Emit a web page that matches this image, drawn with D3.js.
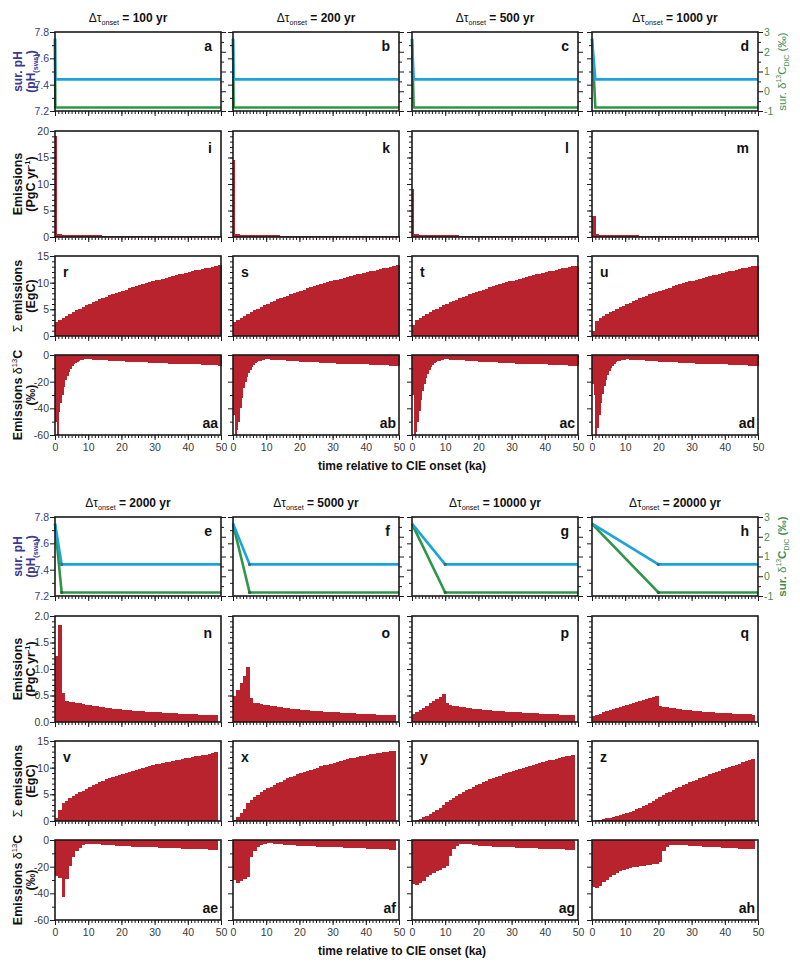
<!DOCTYPE html>
<html><head><meta charset="utf-8">
<script src="https://cdn.jsdelivr.net/npm/d3@7"></script>
<style>
body{margin:0;background:#fff}
svg{display:block}
text{font-family:"Liberation Sans",Arial,Helvetica,sans-serif}
</style>
</head><body>
<svg id="chart" width="800" height="970"></svg>
<script>
// ---------------- DATA ----------------
const onsetYears = [100, 200, 500, 1000, 2000, 5000, 10000, 20000];
const onsetKa = [0.1, 0.2, 0.5, 1, 2, 5, 10, 20];
const letters = [
  ["a","b","c","d"], ["i","k","l","m"], ["r","s","t","u"], ["aa","ab","ac","ad"],
  ["e","f","g","h"], ["n","o","p","q"], ["v","x","y","z"], ["ae","af","ag","ah"]
];
const xTickMajor = [0, 10, 20, 30, 40, 50];
const pHValues = [7.75, 7.44];       // start, after onset
const dicValues = [2.65, -0.82];     // sur. d13C DIC start, after onset

// top block emissions: pulse rate over onset, then 1-ka tail
const topPulse = [19, 14.5, 9, 4];
const topTail = [0.6, 0.5, 0.45, 0.42, 0.4, 0.38, 0.37, 0.35, 0.34, 0.33, 0.32, 0.31, 0.3, 0.29, 0.28, 0.27, 0.26, 0.25, 0.245, 0.24, 0.235, 0.23, 0.225, 0.22, 0.215, 0.21, 0.205, 0.2, 0.196, 0.192, 0.188, 0.184, 0.18, 0.176, 0.172, 0.168, 0.165, 0.162, 0.159, 0.156, 0.153, 0.15, 0.147, 0.144, 0.141, 0.138, 0.135, 0.132, 0.129, 0.126];

// top block cumulative emissions (EgC), 1-ka bins 0..50
const sumR = [2.7, 3.08, 3.45, 3.81, 4.16, 4.5, 4.83, 5.15, 5.46, 5.76, 6.05, 6.33, 6.6, 6.86, 7.11, 7.36, 7.6, 7.83, 8.06, 8.28, 8.5, 8.71, 8.92, 9.12, 9.32, 9.51, 9.7, 9.89, 10.07, 10.25, 10.42, 10.59, 10.76, 10.93, 11.09, 11.25, 11.41, 11.56, 11.71, 11.86, 12.01, 12.15, 12.29, 12.43, 12.57, 12.71, 12.84, 12.97, 13.1, 13.23];
const sumS = [2.6, 3.05, 3.43, 3.8, 4.15, 4.49, 4.82, 5.14, 5.45, 5.75, 6.04, 6.32, 6.59, 6.85, 7.1, 7.35, 7.59, 7.82, 8.05, 8.27, 8.49, 8.7, 8.91, 9.11, 9.31, 9.5, 9.69, 9.88, 10.06, 10.24, 10.41, 10.58, 10.75, 10.92, 11.08, 11.24, 11.4, 11.55, 11.7, 11.85, 12.0, 12.14, 12.28, 12.42, 12.56, 12.7, 12.83, 12.96, 13.09, 13.22];
const sumT = [2.0, 2.95, 3.38, 3.76, 4.12, 4.46, 4.8, 5.12, 5.43, 5.73, 6.02, 6.3, 6.57, 6.83, 7.09, 7.34, 7.58, 7.81, 8.04, 8.26, 8.48, 8.69, 8.9, 9.1, 9.3, 9.49, 9.68, 9.87, 10.05, 10.23, 10.4, 10.57, 10.74, 10.91, 11.07, 11.23, 11.39, 11.54, 11.69, 11.84, 11.99, 12.13, 12.27, 12.41, 12.55, 12.69, 12.82, 12.95, 13.08, 13.21];
const sumU = [1.0, 2.8, 3.3, 3.7, 4.07, 4.42, 4.76, 5.09, 5.4, 5.7, 5.99, 6.27, 6.54, 6.81, 7.07, 7.32, 7.56, 7.8, 8.03, 8.25, 8.47, 8.68, 8.89, 9.09, 9.29, 9.48, 9.67, 9.86, 10.04, 10.22, 10.39, 10.56, 10.73, 10.9, 11.06, 11.22, 11.38, 11.53, 11.68, 11.83, 11.98, 12.12, 12.26, 12.4, 12.54, 12.68, 12.81, 12.94, 13.07, 13.2];

// top block emission d13C: 0.5-ka bins for 0-10 ka, 1-ka bins 10-50 ka
const d13EarlyAA = [-50, -60, -43, -36, -30, -24, -19, -15.5, -12.5, -10.2, -8.4, -7, -5.9, -5, -4.3, -3.8, -3.4, -3.2, -3.1, -3.2];
const d13EarlyAB = [-45, -60, -56, -50, -40, -32, -25, -20.5, -16.5, -13.5, -11, -9, -7.5, -6.3, -5.4, -4.7, -4.2, -3.8, -3.5, -3.3];
const d13EarlyAC = [-30, -60, -58, -50, -42, -34, -27, -22, -17.5, -14, -11.3, -9.2, -7.6, -6.3, -5.4, -4.7, -4.2, -3.8, -3.5, -3.3];
const d13EarlyAD = [-22, -30, -60, -55, -45, -36, -29, -23, -18.5, -15, -12, -9.8, -8, -6.6, -5.6, -4.8, -4.3, -3.9, -3.6, -3.4];
const d13LateAA = [-3.3, -3.4, -3.6, -3.7, -3.9, -4.0, -4.2, -4.3, -4.5, -4.6, -4.8, -4.9, -5.0, -5.1, -5.3, -5.4, -5.5, -5.6, -5.8, -5.9, -6.0, -6.1, -6.2, -6.3, -6.4, -6.5, -6.5, -6.6, -6.7, -6.8, -6.8, -6.9, -7.0, -7.1, -7.2, -7.3, -7.4, -7.6, -7.8, -8.0];
const d13LateAB = [-3.3, -3.5, -3.7, -3.8, -4.0, -4.1, -4.3, -4.5, -4.6, -4.8, -5.0, -5.1, -5.2, -5.4, -5.5, -5.6, -5.8, -5.9, -6.0, -6.2, -6.3, -6.4, -6.5, -6.6, -6.7, -6.8, -6.8, -6.9, -7.0, -7.0, -7.1, -7.2, -7.3, -7.4, -7.5, -7.6, -7.8, -7.9, -8.1, -8.3];
const d13LateAC = [-3.3, -3.5, -3.7, -3.8, -4.0, -4.1, -4.3, -4.5, -4.6, -4.8, -5.0, -5.1, -5.2, -5.4, -5.5, -5.6, -5.8, -5.9, -6.0, -6.2, -6.3, -6.4, -6.5, -6.6, -6.7, -6.8, -6.8, -6.9, -7.0, -7.0, -7.1, -7.2, -7.3, -7.4, -7.5, -7.6, -7.8, -7.9, -8.1, -8.3];
const d13LateAD = [-3.3, -3.5, -3.7, -3.8, -4.0, -4.1, -4.3, -4.5, -4.6, -4.8, -5.0, -5.1, -5.2, -5.4, -5.5, -5.6, -5.8, -5.9, -6.0, -6.2, -6.3, -6.4, -6.5, -6.6, -6.7, -6.8, -6.8, -6.9, -7.0, -7.0, -7.1, -7.2, -7.3, -7.4, -7.5, -7.6, -7.8, -7.9, -8.1, -8.3];

// bottom block: 1-ka bins 0..49
const emisN = [1.25, 1.83, 0.55, 0.40, 0.385, 0.37, 0.36, 0.35, 0.34, 0.33, 0.315, 0.305, 0.295, 0.285, 0.275, 0.265, 0.258, 0.25, 0.243, 0.237, 0.23, 0.225, 0.22, 0.215, 0.21, 0.205, 0.2, 0.196, 0.192, 0.188, 0.184, 0.18, 0.176, 0.172, 0.168, 0.165, 0.162, 0.159, 0.156, 0.153, 0.15, 0.147, 0.144, 0.141, 0.138, 0.135, 0.132, 0.129, 0.126];
const emisO = [0.50, 0.61, 0.74, 0.87, 1.03, 0.455, 0.36, 0.35, 0.34, 0.33, 0.315, 0.305, 0.295, 0.285, 0.275, 0.265, 0.258, 0.25, 0.243, 0.237, 0.23, 0.225, 0.22, 0.215, 0.21, 0.205, 0.2, 0.196, 0.192, 0.188, 0.184, 0.18, 0.176, 0.172, 0.168, 0.165, 0.162, 0.159, 0.156, 0.153, 0.15, 0.147, 0.144, 0.141, 0.138, 0.135, 0.132, 0.129, 0.126];
const emisP = [0.15, 0.19, 0.23, 0.27, 0.31, 0.35, 0.39, 0.43, 0.47, 0.52, 0.36, 0.33, 0.31, 0.295, 0.285, 0.275, 0.265, 0.258, 0.25, 0.243, 0.237, 0.23, 0.225, 0.22, 0.215, 0.21, 0.205, 0.2, 0.196, 0.192, 0.188, 0.184, 0.18, 0.176, 0.172, 0.168, 0.165, 0.162, 0.159, 0.156, 0.153, 0.15, 0.147, 0.144, 0.141, 0.138, 0.135, 0.132, 0.129];
const emisQ = [0.12, 0.14, 0.16, 0.18, 0.2, 0.22, 0.24, 0.26, 0.28, 0.3, 0.32, 0.34, 0.36, 0.38, 0.4, 0.42, 0.44, 0.46, 0.48, 0.5, 0.31, 0.29, 0.275, 0.265, 0.255, 0.247, 0.24, 0.233, 0.226, 0.22, 0.214, 0.208, 0.202, 0.197, 0.192, 0.187, 0.182, 0.178, 0.174, 0.17, 0.166, 0.162, 0.158, 0.155, 0.152, 0.149, 0.146, 0.143, 0.14];

const sumV = [0.6, 2.1, 3.3, 3.8, 4.25, 4.65, 5.0, 5.35, 5.7, 6.05, 6.4, 6.7, 7.0, 7.28, 7.55, 7.8, 8.05, 8.28, 8.5, 8.68, 8.85, 9.03, 9.21, 9.39, 9.57, 9.75, 9.92, 10.1, 10.27, 10.44, 10.6, 10.74, 10.88, 11.01, 11.14, 11.26, 11.38, 11.5, 11.62, 11.74, 11.85, 11.98, 12.1, 12.22, 12.34, 12.46, 12.58, 12.75, 12.95];
const sumX = [0.25, 0.8, 1.5, 2.3, 3.3, 4.0, 4.5, 4.95, 5.35, 5.75, 6.1, 6.45, 6.8, 7.1, 7.4, 7.7, 7.98, 8.25, 8.5, 8.75, 8.98, 9.2, 9.42, 9.63, 9.83, 10.03, 10.22, 10.41, 10.59, 10.77, 10.94, 11.1, 11.26, 11.42, 11.57, 11.72, 11.86, 12.0, 12.13, 12.26, 12.38, 12.5, 12.61, 12.72, 12.82, 12.92, 13.0, 13.08, 13.15];
const sumY = [0.07, 0.24, 0.45, 0.7, 0.98, 1.3, 1.67, 2.08, 2.53, 3.03, 3.55, 3.95, 4.33, 4.7, 5.05, 5.4, 5.74, 6.07, 6.39, 6.7, 7.0, 7.28, 7.55, 7.81, 8.06, 8.3, 8.53, 8.76, 8.98, 9.2, 9.41, 9.61, 9.81, 10.0, 10.19, 10.37, 10.55, 10.72, 10.89, 11.05, 11.21, 11.37, 11.52, 11.67, 11.82, 11.96, 12.1, 12.24, 12.38];
const sumZ = [0.05, 0.14, 0.25, 0.37, 0.5, 0.64, 0.79, 0.95, 1.12, 1.3, 1.5, 1.72, 1.95, 2.2, 2.47, 2.76, 3.07, 3.4, 3.75, 4.12, 4.5, 4.85, 5.18, 5.5, 5.81, 6.11, 6.4, 6.68, 6.96, 7.23, 7.5, 7.76, 8.02, 8.27, 8.52, 8.76, 9.0, 9.23, 9.46, 9.69, 9.91, 10.13, 10.35, 10.56, 10.77, 10.98, 11.18, 11.38, 11.58];

const d13AE = [-27, -28.5, -43, -29.5, -19.5, -13, -8.3, -5.8, -4, -3, -2.8, -2.8, -3.0, -3.2, -3.4, -3.6, -3.8, -4.0, -4.2, -4.4, -4.6, -4.7, -4.8, -4.9, -5.0, -5.1, -5.2, -5.3, -5.4, -5.5, -5.6, -5.7, -5.8, -5.9, -6.0, -6.1, -6.2, -6.3, -6.4, -6.5, -6.6, -6.7, -6.8, -6.9, -7.0, -7.1, -7.3, -7.5, -7.6];
const d13AF = [-30, -32, -31, -29, -27.5, -13, -8, -5.2, -3.8, -3, -2.6, -2.6, -2.8, -3.0, -3.2, -3.4, -3.6, -3.8, -4.0, -4.2, -4.4, -4.5, -4.6, -4.7, -4.8, -4.9, -5.0, -5.1, -5.2, -5.3, -5.4, -5.5, -5.6, -5.7, -5.8, -5.9, -6.0, -6.1, -6.2, -6.3, -6.4, -6.5, -6.6, -6.7, -6.8, -6.9, -7.0, -7.2, -7.4];
const d13AG = [-33, -34, -32, -30.5, -28, -26, -24.5, -23.2, -22.2, -21, -19.7, -12, -6.5, -4.5, -3.3, -2.8, -3.0, -3.3, -3.6, -3.9, -4.2, -4.4, -4.6, -4.8, -5.0, -5.1, -5.2, -5.3, -5.4, -5.5, -5.6, -5.7, -5.8, -5.9, -6.0, -6.1, -6.2, -6.3, -6.4, -6.5, -6.6, -6.7, -6.8, -6.9, -7.0, -7.1, -7.3, -7.5, -7.7];
const d13AH = [-35.3, -36, -34.3, -31.8, -29.8, -27.7, -26.5, -24.7, -23.5, -22.7, -21.7, -21.2, -20.4, -19.9, -19.5, -19.2, -19, -18.5, -18.3, -17.8, -16.8, -8.3, -5.3, -4, -3.5, -3.5, -3.7, -3.9, -4.1, -4.3, -4.5, -4.6, -4.8, -4.9, -5.0, -5.2, -5.3, -5.4, -5.6, -5.7, -5.8, -5.9, -6.1, -6.2, -6.4, -6.5, -6.7, -6.8, -7.0];

// ---------------- LAYOUT / STYLE ----------------
const RED = "#b8232e", BLUE = "#1ca3dc", GREEN = "#2e9647";
const INDIGO = "#3a3a8e", GREENTXT = "#3f8f55", TICKTXT = "#3a3a3a";
const colLeft = [55, 233, 412, 592], colW = 166;
const rowTop = [32, 131, 256, 355], rowH = [79, 106, 80, 80];
const blockDy = [0, 485];
const svg = d3.select("#chart");

function rich(sel, parts, size) {
  let cur = 0;
  parts.forEach(p => {
    const target = p.sup ? -size * 0.42 : (p.sub ? size * 0.28 : 0);
    const ts = sel.append("tspan").text(p.t).attr("dy", target - cur);
    cur = target;
    if (p.sup || p.sub) ts.attr("font-size", size * 0.6);
    if (p.w) ts.attr("font-weight", p.w);
  });
}

function styleAxis(g, color) {
  g.select(".domain").remove();
  g.selectAll(".tick line").attr("stroke", "#1a1a1a").attr("stroke-width", 1);
  g.selectAll(".tick text").attr("fill", color || TICKTXT).attr("font-size", 10.5)
    .attr("font-family", "'Liberation Sans', Arial, sans-serif");
}

function fmt(v) { return String(v); }

function yAxes(g, y, x0, minorVals, majorVals, fmtF, showLabels, side, color) {
  const mk = side === "right" ? d3.axisRight : d3.axisLeft;
  const gm = g.append("g").attr("transform", `translate(${x0},0)`)
    .call(mk(y).tickValues(minorVals).tickSize(3).tickFormat(""));
  styleAxis(gm);
  const gM = g.append("g").attr("transform", `translate(${x0},0)`)
    .call(mk(y).tickValues(majorVals).tickSize(5).tickPadding(1).tickFormat(showLabels ? fmtF : ""));
  styleAxis(gM, color);
}

function xAxes(g, x, yb, showLabels) {
  const gm = g.append("g").attr("transform", `translate(0,${yb})`)
    .call(d3.axisBottom(x).tickValues(d3.range(0, 51, 1)).tickSize(3).tickFormat(""));
  styleAxis(gm);
  const gM = g.append("g").attr("transform", `translate(0,${yb})`)
    .call(d3.axisBottom(x).tickValues(xTickMajor).tickSize(5).tickPadding(4).tickFormat(showLabels ? fmt : ""));
  styleAxis(gM);
}

function frame(g, x0, y0, w, h) {
  g.append("rect").attr("x", x0).attr("y", y0).attr("width", w).attr("height", h)
    .attr("fill", "none").attr("stroke", "#1a1a1a").attr("stroke-width", 1.6);
}

function bars(g, x, y, spans) {
  g.append("g").attr("shape-rendering", "crispEdges")
    .selectAll("rect").data(spans).enter().append("rect")
    .attr("x", d => x(d[0]))
    .attr("width", d => Math.max(1.8, x(d[1]) - x(d[0]) + 0.5))
    .attr("y", d => Math.min(y(0), y(d[2])))
    .attr("height", d => Math.abs(y(d[2]) - y(0)))
    .attr("fill", RED);
}

function ka1(values) { return values.map((v, i) => [i, i + 1, v]); }

function letter(g, txt, x, y, anchor) {
  g.append("text").attr("x", x).attr("y", y).attr("text-anchor", anchor)
    .attr("font-size", 14).attr("font-weight", "bold").attr("fill", "#111").text(txt);
}

const sumTop = [sumR, sumS, sumT, sumU];
const d13Early = [d13EarlyAA, d13EarlyAB, d13EarlyAC, d13EarlyAD];
const d13Late = [d13LateAA, d13LateAB, d13LateAC, d13LateAD];
const emisBot = [emisN, emisO, emisP, emisQ];
const sumBot = [sumV, sumX, sumY, sumZ];
const d13Bot = [d13AE, d13AF, d13AG, d13AH];

const T1X = 22, T2X = 35;

for (let b = 0; b < 2; b++) {
  for (let c = 0; c < 4; c++) {
    const k = b * 4 + c;
    const dur = onsetKa[k];
    const x0 = colLeft[c], w = colW;
    const x = d3.scaleLinear().domain([0, 50]).range([x0, x0 + w]);
    const g = svg.append("g");

    // column title
    const tx = x0 + w / 2 + (c === 0 ? -10 : 0);
    const tt = g.append("text").attr("x", tx).attr("y", 22 + blockDy[b]).attr("text-anchor", "middle")
      .attr("font-size", 12).attr("fill", "#111");
    rich(tt, [{t: "\u0394\u03c4"}, {t: "onset", sub: true}, {t: " = " + onsetYears[k] + " yr", w: "bold"}], 12);

    // ---- row 0: pH & d13C DIC
    {
      const y0 = rowTop[0] + blockDy[b], h = rowH[0];
      const yL = d3.scaleLinear().domain([7.2, 7.8]).range([y0 + h, y0]);
      const yR = d3.scaleLinear().domain([-1, 3]).range([y0 + h, y0]);
      const pts = [[0, pHValues[0]], [dur, pHValues[1]], [50, pHValues[1]]];
      const ptsD = [[0, dicValues[0]], [dur, dicValues[1]], [50, dicValues[1]]];
      g.append("path").datum(ptsD).attr("fill", "none").attr("stroke", GREEN).attr("stroke-width", 2.6)
        .attr("d", d3.line().x(d => x(d[0])).y(d => yR(d[1])));
      g.append("path").datum(pts).attr("fill", "none").attr("stroke", BLUE).attr("stroke-width", 2.6)
        .attr("d", d3.line().x(d => x(d[0])).y(d => yL(d[1])));
      if (b === 1) {
        g.append("circle").attr("cx", x(dur)).attr("cy", yL(pHValues[1])).attr("r", 1.6).attr("fill", "#2a6f8f");
        g.append("circle").attr("cx", x(dur)).attr("cy", yR(dicValues[1])).attr("r", 1.6).attr("fill", "#236b33");
      }
      frame(g, x0, y0, w, h);
      yAxes(g, yL, x0, [7.3, 7.5, 7.7], [7.2, 7.4, 7.6, 7.8], d => d.toFixed(1), c === 0, "left", INDIGO);
      yAxes(g, yR, x0 + w, [-0.5, 0.5, 1.5, 2.5], [-1, 0, 1, 2, 3], fmt, c === 3, "right", GREENTXT);
      xAxes(g, x, y0 + h, false);
      letter(g, letters[b * 4][c], x0 + w - 9, y0 + 19, "end");
      if (c === 0) {
        const cy = y0 + h / 2;
        g.append("text").attr("transform", `translate(${T1X},${cy}) rotate(-90)`).attr("text-anchor", "middle")
          .attr("font-size", 12).attr("font-weight", "bold").attr("fill", INDIGO).text("sur. pH");
        const t2 = g.append("text").attr("transform", `translate(${T2X},${cy}) rotate(-90)`).attr("text-anchor", "middle")
          .attr("font-size", 12).attr("font-weight", "bold").attr("fill", INDIGO);
        rich(t2, [{t: "(pH"}, {t: "(sws)", sub: true}, {t: ")"}], 12);
      }
      if (c === 3) {
        const cy = y0 + h / 2;
        const t3 = g.append("text").attr("transform", `translate(786,${cy}) rotate(-90)`).attr("text-anchor", "middle")
          .attr("font-size", 11.5).attr("fill", GREENTXT);
        const wt = b === 1 ? "bold" : "normal";
        rich(t3, [{t: "sur. ", w: wt}, {t: "\u03b4"}, {t: "13", sup: true}, {t: "C", w: wt}, {t: "DIC", sub: true}, {t: " (\u2030)", w: wt}], 11.5);
      }
    }

    // ---- row 1: emissions
    {
      const y0 = rowTop[1] + blockDy[b], h = rowH[1];
      const top = b === 0 ? 20 : 2;
      const y = d3.scaleLinear().domain([0, top]).range([y0 + h, y0]);
      let spans;
      if (b === 0) {
        spans = [[0, dur, topPulse[c]]].concat(topTail.map((v, i) => [Math.max(i, dur), i + 1, v]).filter(d => d[1] > d[0]));
      } else {
        spans = ka1(emisBot[c]);
      }
      bars(g, x, y, spans);
      frame(g, x0, y0, w, h);
      if (b === 0) yAxes(g, y, x0, d3.range(0, 21, 1), [0, 5, 10, 15, 20], fmt, c === 0, "left");
      else yAxes(g, y, x0, d3.range(0, 21, 1).map(v => v / 10), [0, 0.5, 1, 1.5, 2], d => d.toFixed(1), c === 0, "left");
      xAxes(g, x, y0 + h, false);
      letter(g, letters[b * 4 + 1][c], x0 + w - 9, y0 + 22, "end");
      if (c === 0) {
        const cy = y0 + h / 2;
        g.append("text").attr("transform", `translate(${T1X},${cy}) rotate(-90)`).attr("text-anchor", "middle")
          .attr("font-size", 12.5).attr("font-weight", "bold").attr("fill", "#111").text("Emissions");
        const t2 = g.append("text").attr("transform", `translate(${T2X},${cy}) rotate(-90)`).attr("text-anchor", "middle")
          .attr("font-size", 12.5).attr("font-weight", "bold").attr("fill", "#111");
        rich(t2, [{t: "(PgC yr"}, {t: "-1", sup: true}, {t: ")"}], 12.5);
      }
    }

    // ---- row 2: cumulative emissions
    {
      const y0 = rowTop[2] + blockDy[b], h = rowH[2];
      const y = d3.scaleLinear().domain([0, 15]).range([y0 + h, y0]);
      bars(g, x, y, ka1(b === 0 ? sumTop[c] : sumBot[c]));
      frame(g, x0, y0, w, h);
      yAxes(g, y, x0, d3.range(0, 16, 1), [0, 5, 10, 15], fmt, c === 0, "left");
      xAxes(g, x, y0 + h, false);
      letter(g, letters[b * 4 + 2][c], x0 + 8, y0 + 21, "start");
      if (c === 0) {
        const cy = y0 + h / 2;
        const t1 = g.append("text").attr("transform", `translate(${T1X},${cy}) rotate(-90)`).attr("text-anchor", "middle")
          .attr("font-size", 12.5).attr("fill", "#111");
        rich(t1, [{t: "\u03a3 "}, {t: "emissions", w: "bold"}], 12.5);
        g.append("text").attr("transform", `translate(${T2X},${cy}) rotate(-90)`).attr("text-anchor", "middle")
          .attr("font-size", 12.5).attr("font-weight", "bold").attr("fill", "#111").text("(EgC)");
      }
    }

    // ---- row 3: emission d13C
    {
      const y0 = rowTop[3] + blockDy[b], h = rowH[3];
      const y = d3.scaleLinear().domain([-60, 0]).range([y0 + h, y0]);
      let spans;
      if (b === 0) {
        spans = d13Early[c].map((v, i) => [i * 0.5, i * 0.5 + 0.5, v])
          .concat(d13Late[c].map((v, i) => [10 + i, 11 + i, v]));
      } else {
        spans = ka1(d13Bot[c]);
      }
      bars(g, x, y, spans);
      frame(g, x0, y0, w, h);
      yAxes(g, y, x0, [-50, -30, -10], [-60, -40, -20, 0], fmt, c === 0, "left");
      xAxes(g, x, y0 + h, true);
      letter(g, letters[b * 4 + 3][c], x0 + w - 3, y0 + h - 7, "end");
      if (c === 0) {
        const cy = y0 + h / 2;
        const t1 = g.append("text").attr("transform", `translate(${T1X},${cy}) rotate(-90)`).attr("text-anchor", "middle")
          .attr("font-size", 12.5).attr("fill", "#111");
        rich(t1, [{t: "Emissions ", w: "bold"}, {t: "\u03b4"}, {t: "13", sup: true}, {t: "C", w: "bold"}], 12.5);
        g.append("text").attr("transform", `translate(${T2X},${cy}) rotate(-90)`).attr("text-anchor", "middle")
          .attr("font-size", 12.5).attr("font-weight", "bold").attr("fill", "#111").text("(\u2030)");
      }
    }
  }
  // x axis title
  svg.append("text").attr("x", 402).attr("y", 470 + blockDy[b]).attr("text-anchor", "middle")
    .attr("font-size", 12).attr("font-weight", "bold").attr("fill", "#111")
    .text("time relative to CIE onset (ka)");
}
</script>
</body></html>
